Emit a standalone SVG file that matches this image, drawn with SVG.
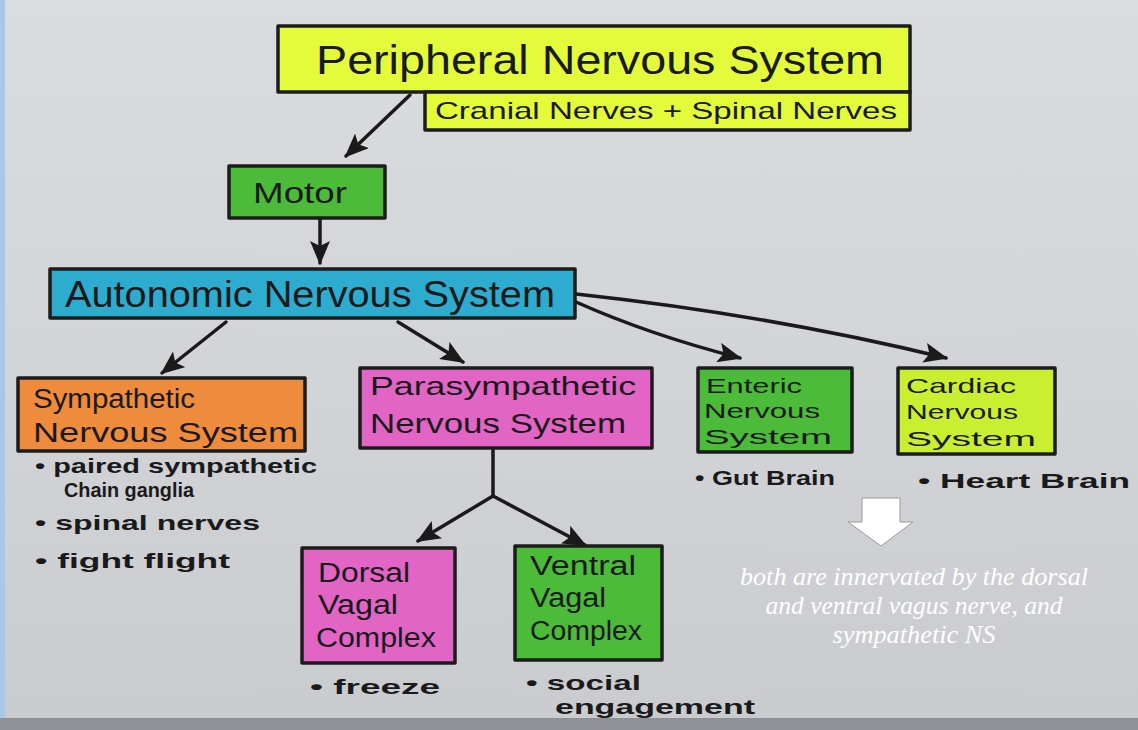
<svg xmlns="http://www.w3.org/2000/svg" width="1138" height="730" viewBox="0 0 1138 730">
<defs>
<linearGradient id="paper" x1="0" y1="0" x2="0" y2="1">
<stop offset="0" stop-color="#dadcdf"/>
<stop offset="0.5" stop-color="#d2d4d7"/>
<stop offset="1" stop-color="#c9cbce"/>
</linearGradient>
<marker id="ah" viewBox="0 0 24 20" refX="22" refY="10" markerWidth="24" markerHeight="20" markerUnits="userSpaceOnUse" orient="auto">
<path d="M0,0 L24,10 L0,20 L5,10 Z" fill="#1a1a1a"/>
</marker>
<style>
.box{stroke:#1c1c1c;stroke-width:3.5;stroke-linejoin:round}
.hw{font-family:"Liberation Sans",Arial,sans-serif;fill:#1a1a1a}
.note{font-family:"Liberation Sans",Arial,sans-serif;fill:#1a1a1a;font-size:21px;font-weight:bold}
.con{fill:none;stroke:#1a1a1a;stroke-width:3.5;stroke-linecap:round}
.cap{font-family:"Liberation Serif","DejaVu Serif",serif;font-style:italic;fill:#ffffff;font-size:26px}
</style>
</defs>
<rect x="0" y="0" width="1138" height="730" fill="url(#paper)"/>
<rect x="0" y="0" width="5" height="730" fill="#a8c8ea"/>
<rect x="0" y="718" width="1138" height="12" fill="#8e9195"/>

<g id="connectors">
<path class="con" d="M410,95 L346,156" marker-end="url(#ah)"/>
<path class="con" d="M320,219 L320,263" marker-end="url(#ah)"/>
<path class="con" d="M226,322 L162,373" marker-end="url(#ah)"/>
<path class="con" d="M398,322 L463,362" marker-end="url(#ah)"/>
<path class="con" d="M576,302 Q650,335 740,358" marker-end="url(#ah)"/>
<path class="con" d="M576,294 Q770,315 946,358" marker-end="url(#ah)"/>
<path class="con" d="M493,450 L493,496"/>
<path class="con" d="M493,496 L418,541" marker-end="url(#ah)"/>
<path class="con" d="M493,496 L585,545" marker-end="url(#ah)"/>
</g>

<g id="pns">
<rect class="box" x="278" y="26" width="632" height="66" fill="#e4fb3c"/>
<text class="hw" x="600" y="74" font-size="40" text-anchor="middle" textLength="568" lengthAdjust="spacingAndGlyphs">Peripheral Nervous System</text>
</g>
<g id="pns-sub">
<rect class="box" x="425" y="92" width="485" height="38" fill="#e4fb3c"/>
<text class="hw" x="666" y="119" font-size="24" text-anchor="middle" textLength="462" lengthAdjust="spacingAndGlyphs">Cranial Nerves + Spinal Nerves</text>
</g>
<g id="motor">
<rect class="box" x="229" y="166" width="156" height="52" fill="#4dbb3a"/>
<text class="hw" x="300" y="203" font-size="30" text-anchor="middle" textLength="94" lengthAdjust="spacingAndGlyphs">Motor</text>
</g>
<g id="ans">
<rect class="box" x="50" y="269" width="525" height="49" fill="#2eaccf"/>
<text class="hw" x="310" y="307" font-size="36" text-anchor="middle" textLength="490" lengthAdjust="spacingAndGlyphs">Autonomic Nervous System</text>
</g>
<g id="sympathetic">
<rect class="box" x="18" y="378" width="287" height="73" fill="#ee8b3c"/>
<text class="hw" x="33" y="408" font-size="27" textLength="162" lengthAdjust="spacingAndGlyphs">Sympathetic</text>
<text class="hw" x="33" y="442" font-size="27" textLength="265" lengthAdjust="spacingAndGlyphs">Nervous System</text>
</g>
<g id="parasympathetic">
<rect class="box" x="360" y="368" width="292" height="80" fill="#e265c5"/>
<text class="hw" x="370" y="395" font-size="25" textLength="266" lengthAdjust="spacingAndGlyphs">Parasympathetic</text>
<text class="hw" x="370" y="433" font-size="28" textLength="256" lengthAdjust="spacingAndGlyphs">Nervous System</text>
</g>
<g id="enteric">
<rect class="box" x="698" y="368" width="154" height="84" fill="#4cbb3a"/>
<text class="hw" x="706" y="393" font-size="21" textLength="96" lengthAdjust="spacingAndGlyphs">Enteric</text>
<text class="hw" x="704" y="418" font-size="21" textLength="116" lengthAdjust="spacingAndGlyphs">Nervous</text>
<text class="hw" x="704" y="444" font-size="21" textLength="128" lengthAdjust="spacingAndGlyphs">System</text>
</g>
<g id="cardiac">
<rect class="box" x="898" y="368" width="157" height="86" fill="#c9ef30"/>
<text class="hw" x="906" y="393" font-size="21" textLength="110" lengthAdjust="spacingAndGlyphs">Cardiac</text>
<text class="hw" x="906" y="419" font-size="21" textLength="112" lengthAdjust="spacingAndGlyphs">Nervous</text>
<text class="hw" x="906" y="446" font-size="21" textLength="130" lengthAdjust="spacingAndGlyphs">System</text>
</g>
<g id="dorsal">
<rect class="box" x="302" y="548" width="153" height="115" fill="#e265c5"/>
<text class="hw" x="318" y="582" font-size="27" textLength="92" lengthAdjust="spacingAndGlyphs">Dorsal</text>
<text class="hw" x="318" y="614" font-size="27" textLength="80" lengthAdjust="spacingAndGlyphs">Vagal</text>
<text class="hw" x="316" y="647" font-size="27" textLength="120" lengthAdjust="spacingAndGlyphs">Complex</text>
</g>
<g id="ventral">
<rect class="box" x="515" y="546" width="147" height="114" fill="#4cbb3a"/>
<text class="hw" x="530" y="575" font-size="27" textLength="106" lengthAdjust="spacingAndGlyphs">Ventral</text>
<text class="hw" x="530" y="607" font-size="27" textLength="76" lengthAdjust="spacingAndGlyphs">Vagal</text>
<text class="hw" x="530" y="640" font-size="27" textLength="112" lengthAdjust="spacingAndGlyphs">Complex</text>
</g>

<g id="notes">
<text class="note" x="35" y="473" font-size="19" textLength="282" lengthAdjust="spacingAndGlyphs">• paired sympathetic</text>
<text class="note" x="64" y="497" font-size="17" textLength="130" lengthAdjust="spacingAndGlyphs">Chain ganglia</text>
<text class="note" x="35" y="530" textLength="225" lengthAdjust="spacingAndGlyphs">• spinal nerves</text>
<text class="note" x="35" y="568" textLength="195" lengthAdjust="spacingAndGlyphs">• fight flight</text>
<text class="note" x="695" y="485" textLength="140" lengthAdjust="spacingAndGlyphs">• Gut Brain</text>
<text class="note" x="918" y="488" textLength="212" lengthAdjust="spacingAndGlyphs">• Heart Brain</text>
<text class="note" x="310" y="694" textLength="130" lengthAdjust="spacingAndGlyphs">• freeze</text>
<text class="note" x="526" y="690" font-size="19" textLength="115" lengthAdjust="spacingAndGlyphs">• social</text>
<text class="note" x="555" y="714" font-size="19" textLength="200" lengthAdjust="spacingAndGlyphs">engagement</text>
</g>

<g id="callout">
<path d="M862,498 L900,498 L900,522 L913,522 L881,546 L848,522 L862,522 Z" fill="#ffffff" stroke="#9a9a9a" stroke-width="1"/>
<text class="cap" x="914" y="585" text-anchor="middle" textLength="348" lengthAdjust="spacingAndGlyphs">both are innervated by the  dorsal</text>
<text class="cap" x="914" y="614" text-anchor="middle" textLength="297" lengthAdjust="spacingAndGlyphs">and ventral vagus nerve, and</text>
<text class="cap" x="914" y="643" text-anchor="middle" textLength="163" lengthAdjust="spacingAndGlyphs">sympathetic NS</text>
</g>
</svg>
